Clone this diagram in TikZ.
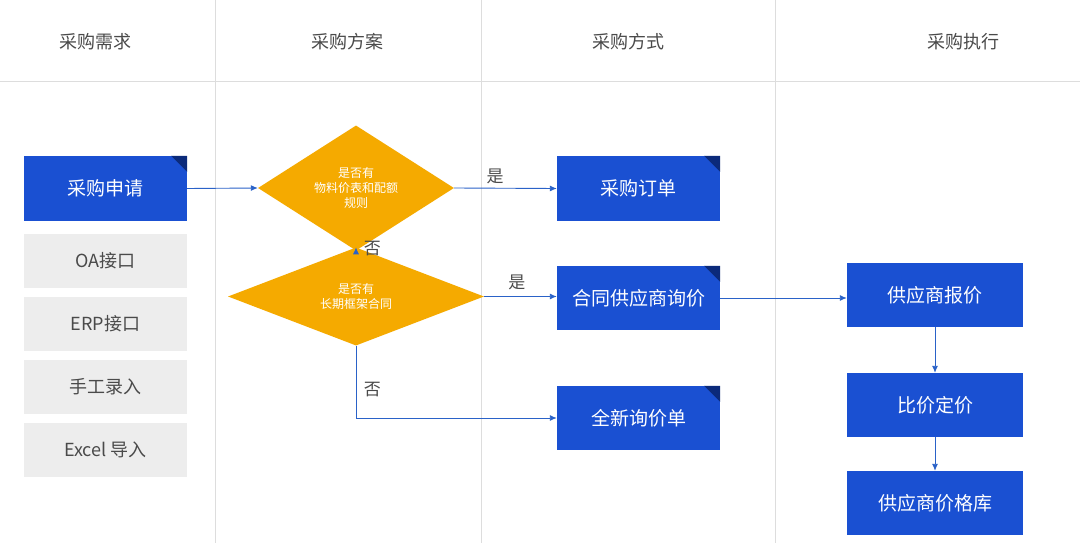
\documentclass[tikz,border=0pt]{standalone}
\usepackage{fontspec}
\setmainfont{Noto Sans CJK SC}
\usetikzlibrary{shapes.geometric,arrows.meta}
\definecolor{bblue}{HTML}{1A50D2}
\definecolor{bfold}{HTML}{0B2A7A}
\definecolor{orng}{HTML}{F5AA00}
\definecolor{arr}{HTML}{2A62C8}
\definecolor{gbox}{HTML}{EDEDED}
\definecolor{gtxt}{HTML}{4A4A4A}
\definecolor{gline}{HTML}{DDDDDD}
\begin{document}
\begin{tikzpicture}[x=1pt,y=-1pt,
  blue/.style={fill=bblue,text=white,font=\fontsize{19}{22}\selectfont,inner sep=0,minimum width=163pt,minimum height=65pt},
  gray/.style={fill=gbox,text=gtxt,font=\fontsize{18}{22}\selectfont,inner sep=0,minimum width=163pt,minimum height=54pt},
  dia/.style={diamond,fill=orng,text=white,font=\fontsize{12}{15}\selectfont,inner sep=0,align=center},
  hdr/.style={text=gtxt,font=\fontsize{18}{22}\selectfont},
  lab/.style={text=gtxt,font=\fontsize{17}{20}\selectfont},
  ar/.style={draw=arr,line width=0.9pt,-{Latex[length=7pt,width=6pt]}}]
\useasboundingbox (0,0) rectangle (1080,543);
\fill[white] (0,0) rectangle (1080,543);
\draw[gline] (0,81) -- (1080,81);
\foreach \x in {215,481,775} \draw[gline] (\x,0) -- (\x,543);
\node[hdr] (h1) at (95,42) {采购需求};
\node[hdr] (h2) at (347,42) {采购方案};
\node[hdr] (h3) at (628,42) {采购方式};
\node[hdr] (h4) at (963,42) {采购执行};
\newcommand{\fold}[1]{\fill[bfold] ([xshift=-16pt]#1.north east) -- (#1.north east) -- ([yshift=-16pt]#1.north east) -- cycle;}
\node[blue] (req) at (105.5,188.5) {采购申请}; \fold{req}
\node[gray] (g1) at (105.5,260.5) {OA接口};
\node[gray] (g2) at (105.5,324) {ERP接口};
\node[gray] (g3) at (105.5,387) {手工录入};
\node[gray] (g4) at (105.5,450) {Excel 导入};
\node[dia,minimum width=196pt,minimum height=80pt] (d1) at (356,188) {是否有\\物料价表和配额\\规则};
\node[dia,minimum width=256pt,minimum height=74pt] (d2) at (356,296.5) {是否有\\长期框架合同};
\node[blue] (po) at (638.5,188.5) {采购订单}; \fold{po}
\node[blue,minimum height=64pt] (ct) at (638.5,298) {合同供应商询价}; \fold{ct}
\node[blue,minimum height=64pt] (nw) at (638.5,418) {全新询价单}; \fold{nw}
\node[blue,minimum width=176pt,minimum height=64pt] (q) at (935,295) {供应商报价};
\node[blue,minimum width=176pt,minimum height=64pt] (cp) at (935,405) {比价定价};
\node[blue,minimum width=176pt,minimum height=64pt] (lib) at (935,503) {供应商价格库};
\draw[ar] (req.east) -- (d1.west);
\draw[ar] (d1.east) -- (po.west) node[lab,pos=0.4,above=1pt] {是};
\draw[ar] (d1.south) -- (d2.north) node[lab,midway,right=4pt] {否};
\draw[ar] (d2.east) -- (d2.east -| ct.west) node[lab,pos=0.45,above=3pt] {是};
\draw[ar] (d2.south) |- (nw.west) node[lab,pos=0.3,right=4pt] {否};
\draw[ar] (ct.east) -- (ct.east -| q.west);
\draw[ar] (q.south) -- (cp.north);
\draw[ar] (cp.south) -- (lib.north);
\end{tikzpicture}
\end{document}
